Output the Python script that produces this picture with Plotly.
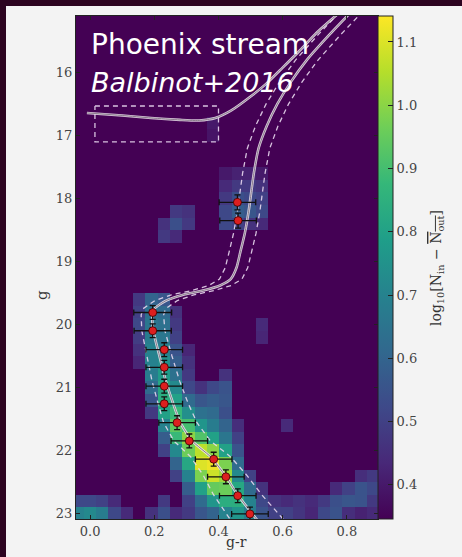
import plotly.graph_objects as go

# ---------------- data ----------------
# Hess-diagram bins (log10[N_in - N_out]); rows = g bins (top->bottom), cols = g-r bins
B = 0.346  # empty bin (colour-scale minimum)
gr_bin0 = -0.0393   # centre of first g-r bin
gr_binw = 0.0384
g_bin0 = 15.2       # centre of first g bin
g_binw = 0.2

hess_z = [
    [B,B,B,B,B, B,B,B,B,B, B,B,B,B,B, B,B,B,B,B, B,B,B,B,B],  # 15.2
    [B,B,B,B,B, B,B,B,B,B, B,B,B,B,B, B,B,B,B,B, B,B,B,B,B],  # 15.4
    [B,B,B,B,B, B,B,B,B,B, B,B,B,B,B, B,B,B,B,B, B,B,B,B,B],  # 15.6
    [B,B,B,B,B, B,B,B,B,B, B,B,B,B,B, B,B,B,B,B, B,B,B,B,B],  # 15.8
    [B,B,B,B,B, B,B,B,B,B, B,B,B,B,B, B,B,B,B,B, B,B,B,B,B],  # 16.0
    [B,B,B,B,B, B,B,B,B,B, B,B,B,B,B, B,B,B,B,B, B,B,B,B,B],  # 16.2
    [B,B,B,B,B, B,B,B,B,B, B,B,B,B,B, B,B,B,B,B, B,B,B,B,B],  # 16.4
    [B,B,B,B,B, B,B,B,B,B, B,B,B,B,B, B,B,B,B,B, B,B,B,B,B],  # 16.6
    [B,B,B,B,B, B,B,B,B,B, B,.40,B,B,B, B,B,B,B,B, B,B,B,B,B],  # 16.8
    [B,B,B,B,B, B,B,B,B,B, B,.39,B,B,B, B,B,B,B,B, B,B,B,B,B],  # 17.0
    [B,B,B,B,B, B,B,B,B,B, B,B,B,B,B, B,B,B,B,B, B,B,B,B,B],  # 17.2
    [B,B,B,B,B, B,B,B,B,B, B,B,B,B,B, B,B,B,B,B, B,B,B,B,B],  # 17.4
    [B,B,B,B,B, B,B,B,B,B, B,B,.40,.42,.42, .40,B,B,B,B, B,B,B,B,B],  # 17.6
    [B,B,B,B,B, B,B,B,B,B, B,B,.44,.48,.48, .46,B,B,B,B, B,B,B,B,B],  # 17.8
    [B,B,B,B,B, B,B,B,B,B, B,B,.48,.54,.52, .50,B,B,B,B, B,B,B,B,B],  # 18.0
    [B,B,B,B,B, B,B,B,.48,.46, B,B,.52,.58,.56, .52,B,B,B,B, B,B,B,B,B],  # 18.2
    [B,B,B,B,B, B,B,.46,.54,.48, B,B,.52,.50,.46, .44,B,B,B,B, B,B,B,B,B],  # 18.4
    [B,B,B,B,B, B,B,.48,.44,B, B,B,B,B,B, B,B,B,B,B, B,B,B,B,B],  # 18.6
    [B,B,B,B,B, B,B,B,B,B, B,B,B,B,B, B,B,B,B,B, B,B,B,B,B],  # 18.8
    [B,B,B,B,B, B,B,B,B,B, B,B,B,B,B, B,B,B,B,B, B,B,B,B,B],  # 19.0
    [B,B,B,B,B, B,B,B,B,B, B,B,B,B,B, B,B,B,B,B, B,B,B,B,B],  # 19.2
    [B,B,B,B,B, B,B,B,B,B, B,B,B,B,B, B,B,B,B,B, B,B,B,B,B],  # 19.4
    [B,B,B,B,B, .48,.60,.56,B,B, B,B,B,B,B, B,B,B,B,B, B,B,B,B,B],  # 19.6
    [B,B,B,B,B, .50,.64,.62,.46,B, B,B,B,B,B, B,B,B,B,B, B,B,B,B,B],  # 19.8
    [B,B,B,B,B, .52,.66,.64,.48,B, B,B,B,B,B, .44,B,B,B,B, B,B,B,B,B],  # 20.0
    [B,B,B,B,B, .49,.68,.66,.50,B, B,B,B,B,B, .43,B,B,B,B, B,B,B,B,B],  # 20.2
    [B,B,B,B,B, .46,.70,.70,.55,.43, B,B,B,B,B, B,B,B,B,B, B,B,B,B,B],  # 20.4
    [B,B,B,B,B, .43,.70,.74,.58,.46, B,B,B,B,B, B,B,B,B,B, B,B,B,B,B],  # 20.6
    [B,B,B,B,B, B,.68,.78,.64,.48, B,B,.46,B,B, B,B,B,B,B, B,B,B,B,B],  # 20.8
    [B,B,B,B,B, B,.62,.82,.72,.52, .46,.52,.55,B,B, B,B,B,B,B, B,B,B,B,B],  # 21.0
    [B,B,B,B,B, B,.55,.84,.80,.62, .56,.58,.56,B,B, B,B,B,B,B, B,B,B,B,B],  # 21.2
    [B,B,B,B,B, B,.48,.80,.88,.74, .64,.62,.54,B,B, B,B,B,B,B, B,B,B,B,B],  # 21.4
    [B,B,B,B,B, B,B,.70,.94,.90, .76,.68,.60,.45,B, B,B,.44,B,B, B,B,B,B,B],  # 21.6
    [B,B,B,B,B, B,B,.58,.88,1.00, .92,.80,.66,.50,B, B,B,B,B,B, B,B,B,B,B],  # 21.8
    [B,B,B,B,B, B,B,.50,.72,.96, 1.06,1.00,.80,.55,B, B,B,B,B,B, B,B,B,B,B],  # 22.0
    [B,B,B,B,B, B,B,B,.60,.82, 1.10,1.12,.98,.62,B, B,B,B,B,B, B,B,B,B,B],  # 22.2
    [B,B,B,B,B, B,B,B,.50,.70, .98,1.08,1.02,.72,.50, B,B,B,B,B, B,B,B,.45,.48],  # 22.4
    [B,B,B,B,B, B,B,B,B,.58, .80,.95,.96,.82,.62, .46,B,B,B,B, B,.44,.50,.55,.52],  # 22.6
    [.52,.52,.50,.44,B, B,B,.48,B,.50, .62,.76,.84,.84,.70, .52,.46,.44,.46,.44, .48,.54,.56,.55,.48],  # 22.8
    [.70,.72,.68,.52,.44, B,.46,.54,.44,.48, .56,.60,.70,.76,.68, .55,.50,.50,.47,.43, .52,.55,.45,.42,.44],  # 23.0
]

# isochrone (central) and its colour envelope
iso_g = [23.2, 22.7, 22.4, 22.1, 21.85, 21.56, 21.26, 20.9, 20.5, 20.1,
         19.85, 19.75, 19.62, 19.53, 19.46, 19.38, 19.28, 19.1, 18.85, 18.55,
         18.2, 17.9, 17.6, 17.2, 16.85, 16.5, 16.15, 15.8, 15.4, 15.0]
iso_gr = [0.535, 0.459, 0.421, 0.375, 0.318, 0.281, 0.259, 0.236, 0.216, 0.197,
          0.194, 0.200, 0.237, 0.288, 0.352, 0.405, 0.438, 0.456, 0.468, 0.482,
          0.494, 0.502, 0.510, 0.525, 0.550, 0.583, 0.625, 0.675, 0.745, 0.82]
iso_gr_blue = [0.450, 0.384, 0.353, 0.313, 0.261, 0.229, 0.212, 0.193, 0.177, 0.161,
               0.159, 0.165, 0.202, 0.253, 0.317, 0.370, 0.403, 0.421, 0.433, 0.447,
               0.459, 0.467, 0.475, 0.490, 0.515, 0.548, 0.590, 0.640, 0.710, 0.785]
iso_gr_red = [0.620, 0.534, 0.489, 0.437, 0.375, 0.333, 0.306, 0.279, 0.255, 0.233,
              0.229, 0.235, 0.272, 0.323, 0.387, 0.440, 0.473, 0.491, 0.503, 0.517,
              0.529, 0.537, 0.545, 0.560, 0.585, 0.618, 0.660, 0.710, 0.780, 0.855]

# horizontal branch / AGB track
hb_gr = [-0.01, 0.10, 0.19, 0.28, 0.34, 0.39, 0.44, 0.50, 0.55, 0.60, 0.655, 0.705, 0.76, 0.80]
hb_g = [16.64, 16.68, 16.72, 16.75, 16.76, 16.72, 16.60, 16.38, 16.17, 15.92, 15.64, 15.37, 15.12, 14.95]

# HB selection box
box_gr = [0.015, 0.40, 0.40, 0.015, 0.015]
box_g = [16.53, 16.53, 17.10, 17.10, 16.53]

# measured stream points
pt_gr = [0.459, 0.461, 0.195, 0.195, 0.231, 0.231, 0.231, 0.231, 0.271, 0.309, 0.385, 0.423, 0.460, 0.498]
pt_g = [18.06, 18.35, 19.81, 20.10, 20.40, 20.68, 20.98, 21.26, 21.56, 21.85, 22.14, 22.42, 22.72, 23.01]
pt_gr_err = [0.057, 0.057, 0.059, 0.058, 0.057, 0.057, 0.057, 0.057, 0.057, 0.057, 0.057, 0.057, 0.057, 0.057]
pt_g_err = [0.12, 0.12, 0.11, 0.11, 0.11, 0.11, 0.11, 0.11, 0.11, 0.11, 0.11, 0.11, 0.11, 0.11]

x_ticks = [0.0, 0.2, 0.4, 0.6, 0.8]
y_ticks = [16, 17, 18, 19, 20, 21, 22, 23]
cb_ticks = [0.4, 0.5, 0.6, 0.7, 0.8, 0.9, 1.0, 1.1]

# ---------------- figure ----------------
W, H = 462, 557
ML, MR, MT, MB = 76, 84, 16, 38
PW, PH = W - ML - MR, H - MT - MB


def px_x(px):
    return (px - ML) / PW


def px_y(py):
    return (H - MB - py) / PH


serif = "DejaVu Serif"
fig = go.Figure()

fig.add_trace(go.Heatmap(
    z=hess_z, x0=gr_bin0, dx=gr_binw, y0=g_bin0, dy=g_binw,
    colorscale="Viridis", zmin=0.346, zmax=1.141, hoverinfo="skip",
    colorbar=dict(
        thickness=15, thicknessmode="pixels", len=1, lenmode="fraction",
        x=1.0, xanchor="left", y=0.5, yanchor="middle", xpad=0, ypad=0,
        outlinewidth=1, outlinecolor="#222",
        ticks="inside", ticklen=5, tickwidth=1, tickcolor="#222",
        tickvals=cb_ticks, tickformat=".1f",
        tickfont=dict(family=serif, size=13, color="#444"),
    ),
))

dash_line = dict(color="rgba(232,215,238,0.9)", width=1.3, dash="5px,4px")
fig.add_trace(go.Scatter(x=iso_gr_blue, y=iso_g, mode="lines", line=dash_line, hoverinfo="skip"))
fig.add_trace(go.Scatter(x=iso_gr_red, y=iso_g, mode="lines", line=dash_line, hoverinfo="skip"))

for xs, ys in ((hb_gr, hb_g), (iso_gr, iso_g)):
    fig.add_trace(go.Scatter(x=xs, y=ys, mode="lines",
                             line=dict(color="rgba(240,232,240,0.85)", width=2.6, shape="spline", smoothing=0.6),
                             hoverinfo="skip"))
    fig.add_trace(go.Scatter(x=xs, y=ys, mode="lines",
                             line=dict(color="#8a7d8c", width=1.0, shape="spline", smoothing=0.6),
                             hoverinfo="skip"))

fig.add_trace(go.Scatter(x=box_gr, y=box_g, mode="lines", line=dash_line, hoverinfo="skip"))

fig.add_trace(go.Scatter(
    x=pt_gr, y=pt_g, mode="markers",
    marker=dict(color="#dc1f1f", size=8, line=dict(color="#3a0000", width=0.8)),
    error_x=dict(type="data", array=pt_gr_err, color="#111", thickness=1.3, width=3),
    error_y=dict(type="data", array=pt_g_err, color="#111", thickness=1.3, width=3),
    hoverinfo="skip",
))

axis_common = dict(
    showgrid=False, zeroline=False, showline=True, linecolor="#222", linewidth=1,
    mirror="ticks", ticks="inside", ticklen=4, tickwidth=1, tickcolor="#222",
    tickfont=dict(family=serif, size=13, color="#444"),
)
fig.update_xaxes(range=[-0.044, 0.897], tickvals=x_ticks, tickformat=".1f", **axis_common)
fig.update_yaxes(range=[23.09, 15.1], tickvals=y_ticks, **axis_common)

fig.update_layout(
    width=W, height=H, margin=dict(l=ML, r=MR, t=MT, b=MB, pad=0),
    paper_bgcolor="#2c0420", plot_bgcolor="#440154", showlegend=False,
    shapes=[dict(type="rect", xref="paper", yref="paper", layer="below",
                 x0=px_x(6), x1=px_x(W + 5), y0=px_y(H + 5), y1=px_y(6),
                 fillcolor="#f3f3f3", line=dict(width=0))],
    annotations=[
        dict(text="Phoenix stream", x=px_x(89), y=px_y(45), xref="paper", yref="paper",
             xanchor="left", yanchor="middle", showarrow=False,
             font=dict(family="DejaVu Sans", size=28, color="white")),
        dict(text="<i>Balbinot+2016</i>", x=px_x(89), y=px_y(82), xref="paper", yref="paper",
             xanchor="left", yanchor="middle", showarrow=False,
             font=dict(family="DejaVu Sans", size=27, color="white")),
        dict(text="g", x=px_x(42), y=px_y(295), xref="paper", yref="paper", textangle=-90,
             xanchor="center", yanchor="middle", showarrow=False,
             font=dict(family=serif, size=15, color="#333")),
        dict(text="g-r", x=px_x(237), y=px_y(542), xref="paper", yref="paper",
             xanchor="center", yanchor="middle", showarrow=False,
             font=dict(family=serif, size=14, color="#333")),
        dict(text="log<sub>10</sub>[N<sub>in</sub> − <span style='text-decoration:overline'>N<sub>out</sub></span>]",
             x=px_x(437), y=px_y(268), xref="paper", yref="paper", textangle=-90,
             xanchor="center", yanchor="middle", showarrow=False,
             font=dict(family=serif, size=14, color="#333")),
    ],
)

fig.write_html(
    "out.html",
    config={"displayModeBar": False},
    post_script="document.body.style.margin='0px';document.body.style.background='#2c0420';",
)
